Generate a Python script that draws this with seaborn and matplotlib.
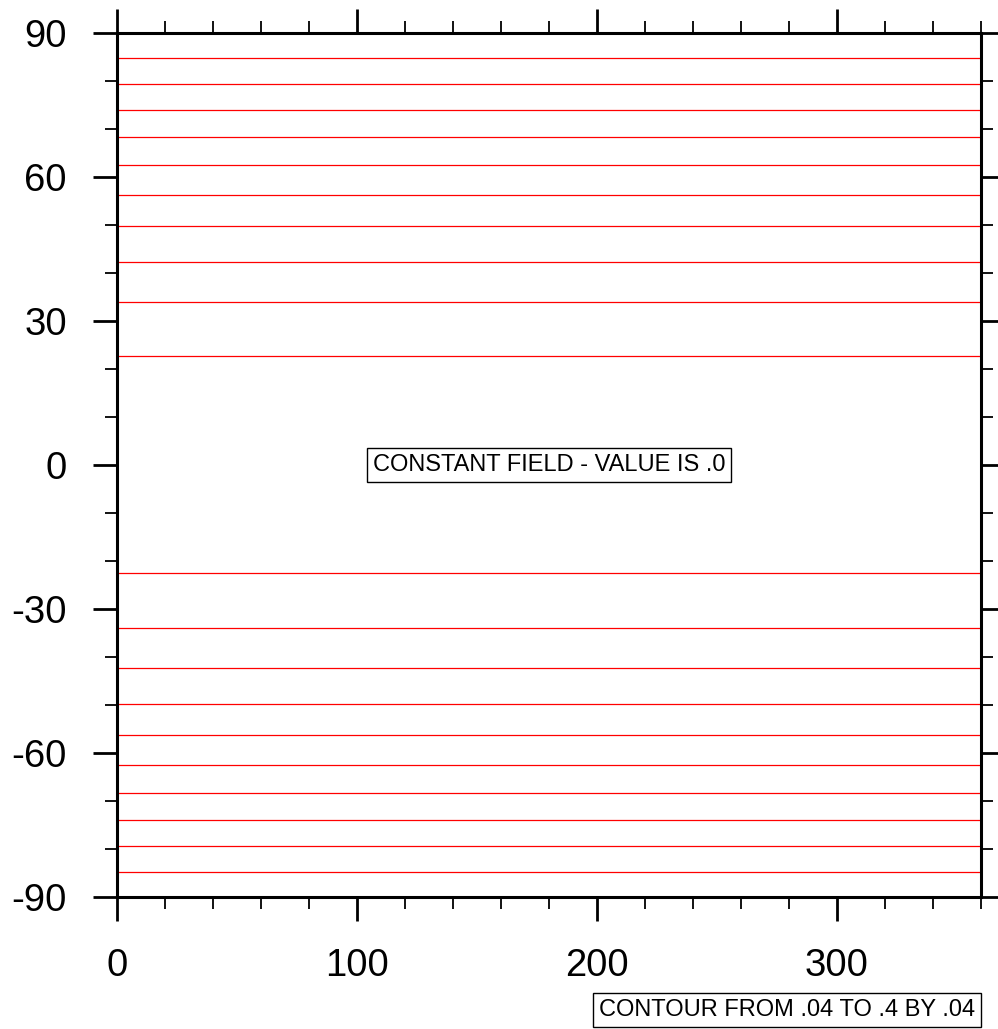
import matplotlib
matplotlib.use("Agg")
import matplotlib.pyplot as plt
import seaborn as sns
import pandas as pd
import numpy as np

# ---- data ----
contour_levels = [0.04, 0.08, 0.12, 0.16, 0.20, 0.24, 0.28, 0.32, 0.36, 0.40]
north_lats = [22.6, 34.0, 42.3, 49.8, 56.3, 62.5, 68.3, 74.0, 79.4, 84.8]
south_lats = [-22.6, -34.0, -42.3, -49.8, -56.3, -62.5, -68.3, -74.0, -79.4, -84.8]
lon_range = [0, 360]
x_ticks = [0, 100, 200, 300]
y_ticks = [-90, -60, -30, 0, 30, 60, 90]
center_label = "CONSTANT FIELD - VALUE IS .0"
info_label = "CONTOUR FROM .04 TO .4 BY .04"

rows = []
for i, lat in enumerate(north_lats + south_lats):
    for lon in lon_range:
        rows.append({"line": i, "lon": lon, "lat": lat})
df = pd.DataFrame(rows)

sns.set_style("ticks")
plt.rcParams["font.family"] = ["Liberation Sans", "DejaVu Sans"]

fig = plt.figure(figsize=(9.98, 10.29), dpi=100)
ax = fig.add_axes([0.1172, 0.1283, 0.8653, 0.8397])

sns.lineplot(data=df, x="lon", y="lat", units="line", estimator=None,
             color="red", linewidth=0.9, ax=ax, legend=False)

ax.set_xlim(0, 360)
ax.set_ylim(-90, 90)
ax.set_xlabel("")
ax.set_ylabel("")
ax.set_xticks(x_ticks)
ax.set_xticklabels([str(t) for t in x_ticks])
ax.set_yticks(y_ticks)
ax.set_yticklabels([str(t) for t in y_ticks])
ax.set_xticks(np.arange(0, 361, 20), minor=True)
ax.set_yticks(np.arange(-90, 91, 10), minor=True)

for s in ax.spines.values():
    s.set_visible(True)
    s.set_linewidth(2.2)
    s.set_color("black")

ax.tick_params(which="major", direction="out", length=17, width=2.0,
               labelsize=27.5, pad=19, top=True, right=True, color="black",
               labelcolor="black")
ax.tick_params(which="minor", direction="out", length=8.5, width=1.3,
               top=True, right=True, color="black")
ax.tick_params(axis="x", which="major", pad=20)

ax.text(180, 0, center_label, ha="center", va="center", fontsize=17,
        color="black",
        bbox=dict(boxstyle="square,pad=0.25", facecolor="white",
                  edgecolor="black", linewidth=1.0))

ax.annotate(info_label, xy=(1.0, -0.131), xycoords="axes fraction",
            xytext=(-4.0, 0), textcoords="offset points",
            ha="right", va="center", fontsize=17, color="black",
            bbox=dict(boxstyle="square,pad=0.25", facecolor="white",
                      edgecolor="black", linewidth=1.0))

fig.savefig("out.png", dpi=100)
